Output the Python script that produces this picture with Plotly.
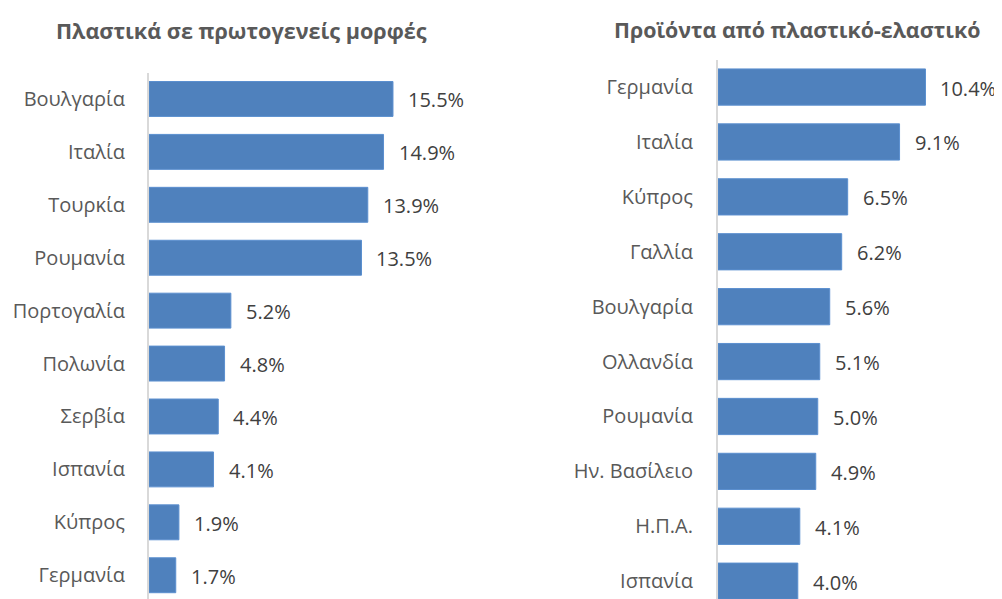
import plotly.graph_objects as go

left_title = "Πλαστικά σε πρωτογενείς μορφές"
left_cats = ["Βουλγαρία", "Ιταλία", "Τουρκία", "Ρουμανία", "Πορτογαλία",
             "Πολωνία", "Σερβία", "Ισπανία", "Κύπρος", "Γερμανία"]
left_vals = [15.5, 14.9, 13.9, 13.5, 5.2, 4.8, 4.4, 4.1, 1.9, 1.7]

right_title = "Προϊόντα από πλαστικό-ελαστικό"
right_cats = ["Γερμανία", "Ιταλία", "Κύπρος", "Γαλλία", "Βουλγαρία",
              "Ολλανδία", "Ρουμανία", "Ην. Βασίλειο", "Η.Π.Α.", "Ισπανία"]
right_vals = [10.4, 9.1, 6.5, 6.2, 5.6, 5.1, 5.0, 4.9, 4.1, 4.0]

W, H = 1002, 599
OFF = 8  # page body margin offset
FONT = "Open Sans"
BAR = "#4F81BD"
LABEL_C = "#595959"
VAL_C = "#404040"


def px(x):
    return (x - OFF) / W


def py(y):
    return 1 - (y - OFF) / H


fig = go.Figure()
fig.add_trace(go.Bar(x=left_vals, y=left_cats, orientation="h", xaxis="x", yaxis="y",
                     marker=dict(color=BAR, line=dict(color="#5B8FCF", width=1)),
                     width=0.66, showlegend=False, hoverinfo="skip"))
fig.add_trace(go.Bar(x=right_vals, y=right_cats, orientation="h", xaxis="x2", yaxis="y2",
                     marker=dict(color=BAR, line=dict(color="#5B8FCF", width=1)),
                     width=0.66, showlegend=False, hoverinfo="skip"))

annotations = []
for c, v in zip(left_cats, left_vals):
    annotations.append(dict(x=v, y=c, xref="x", yref="y", text=f"{v:.1f}%", showarrow=False,
                            xanchor="left", xshift=13, yshift=-1,
                            font=dict(family=FONT, size=20, color=VAL_C)))
for c, v in zip(right_cats, right_vals):
    annotations.append(dict(x=v, y=c, xref="x2", yref="y2", text=f"{v:.1f}%", showarrow=False,
                            xanchor="left", xshift=13, yshift=-1,
                            font=dict(family=FONT, size=20, color=VAL_C)))
annotations.append(dict(x=px(241), y=py(31), xref="paper", yref="paper", text=f"<b>{left_title}</b>",
                        showarrow=False, xanchor="center", yanchor="middle",
                        font=dict(family=FONT, size=21.6, color=LABEL_C)))
annotations.append(dict(x=px(797), y=py(30), xref="paper", yref="paper", text=f"<b>{right_title}</b>",
                        showarrow=False, xanchor="center", yanchor="middle",
                        font=dict(family=FONT, size=21.4, color=LABEL_C)))

axis_common = dict(showgrid=False, zeroline=False, showticklabels=False, ticks="")
yax_common = dict(type="category", showgrid=False, zeroline=False, showline=True,
                  linecolor="#D9D9D9", linewidth=2, ticks="",
                  tickfont=dict(family=FONT, size=20, color=LABEL_C))

fig.update_layout(
    width=W, height=H,
    margin=dict(l=0, r=0, t=0, b=0),
    paper_bgcolor="white", plot_bgcolor="white",
    xaxis=dict(domain=[px(149), px(490)], range=[0, 341 / 15.74], **axis_common),
    yaxis=dict(domain=[0, py(72.5)], range=[9.6, -0.5], anchor="x",
               ticklabelstandoff=18, **yax_common),
    xaxis2=dict(domain=[px(718), 1.0], range=[0, 292 / 19.95], anchor="y2", **axis_common),
    yaxis2=dict(domain=[0, py(59.6)], range=[9.47, -0.5], anchor="x2",
                ticklabelstandoff=19, **yax_common),
    annotations=annotations,
)

fig.write_html("out.html")
